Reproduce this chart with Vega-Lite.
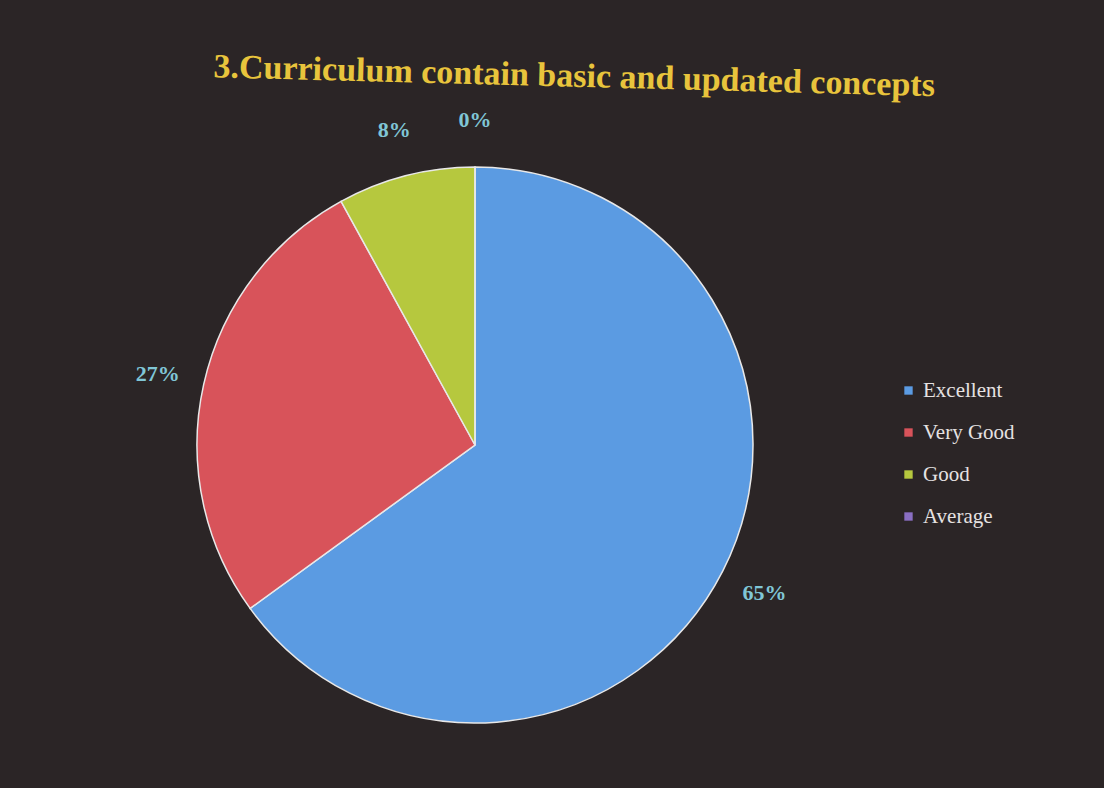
{
  "$schema": "https://vega.github.io/schema/vega-lite/v6.json",
  "autosize": "none",
  "width": 950,
  "height": 686,
  "padding": {"left": 0, "top": 102, "right": 154, "bottom": 0},
  "background": "#2b2526",
  "title": {
    "text": "3.Curriculum contain basic and updated concepts",
    "font": "Liberation Serif",
    "fontSize": 34,
    "fontWeight": "bold",
    "color": "#e8c43c",
    "anchor": "middle",
    "dx": 100,
    "dy": 12,
    "offset": 4,
    "angle": 1.5
  },
  "data": {
    "values": [
      {"rating": "Excellent", "pct": 65, "label": "65%", "order": 1},
      {"rating": "Very Good", "pct": 27, "label": "27%", "order": 2},
      {"rating": "Good", "pct": 8, "label": "8%", "order": 3},
      {"rating": "Average", "pct": 0, "label": "0%", "order": 4}
    ]
  },
  "encoding": {
    "theta": {"field": "pct", "type": "quantitative", "stack": true},
    "order": {"field": "order", "type": "quantitative"}
  },
  "layer": [
    {
      "mark": {"type": "arc", "outerRadius": 278, "stroke": "#e8e8e8", "strokeWidth": 1.5},
      "encoding": {
        "color": {
          "field": "rating",
          "type": "nominal",
          "scale": {
            "domain": ["Excellent", "Very Good", "Good", "Average"],
            "range": ["#5b9be2", "#d8535a", "#b6c83e", "#8a6fc2"]
          },
          "legend": {
            "title": null,
            "orient": "none",
            "legendX": 898,
            "legendY": 278,
            "symbolType": "square",
            "symbolSize": 70,
            "symbolStrokeWidth": 0,
            "labelFont": "Liberation Serif",
            "labelFontSize": 21,
            "labelColor": "#e6e2e2",
            "rowPadding": 20,
            "labelOffset": 4
          }
        }
      }
    },
    {
      "mark": {"type": "text", "radius": 325, "font": "Liberation Serif", "fontSize": 22, "fontWeight": "bold", "color": "#80c6d6"},
      "encoding": {
        "text": {"field": "label", "type": "nominal"}
      }
    }
  ]
}
